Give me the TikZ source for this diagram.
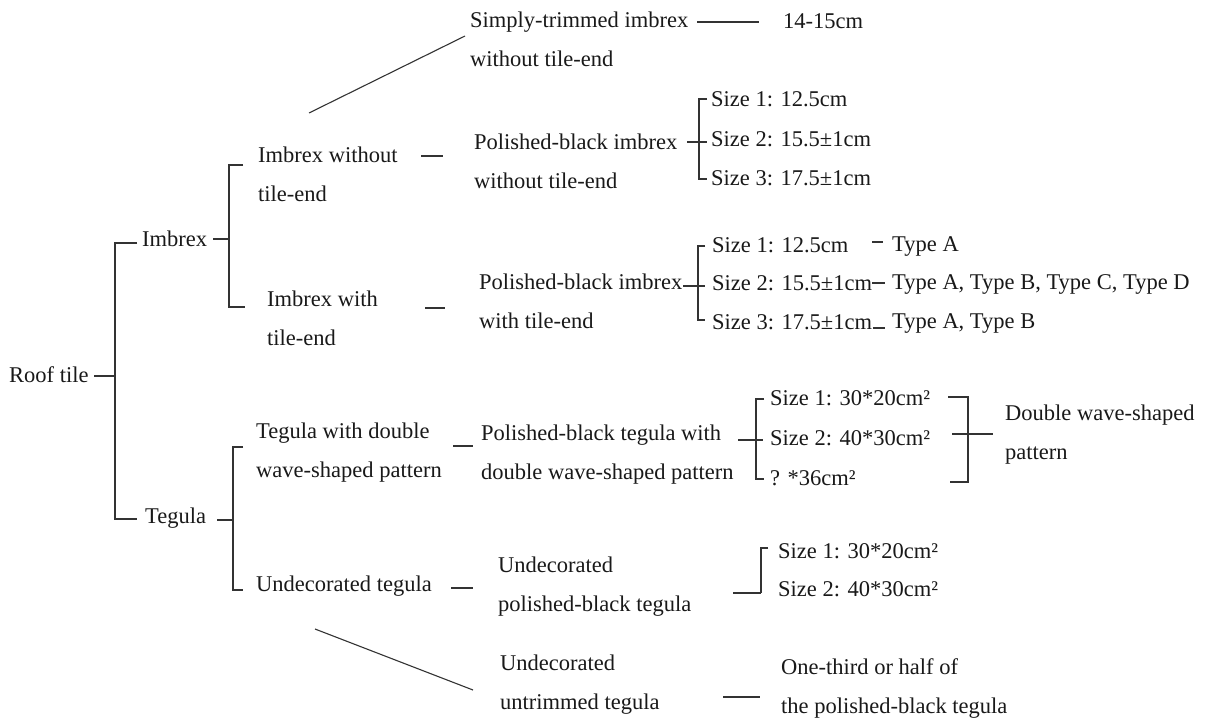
\documentclass[tikz,border=0pt]{standalone}
\usepackage{fontspec}
\setmainfont{Liberation Serif}
\begin{document}
\begin{tikzpicture}[x=1pt,y=-1pt,
  lbl/.style={anchor=base west,inner sep=0pt,align=left,text=black!90,font=\fontsize{22.5}{39}\selectfont},
  ln/.style={line width=1.1pt,draw=black!80}]
\useasboundingbox[fill=white] (0,0) rectangle (1209,720);

% ---------- text nodes (two-line nodes anchored at the baseline of their last line) ----------
\node[lbl] (roof) at (9,382) {Roof tile};
\node[lbl] (imb) at (142,246) {Imbrex};
\node[lbl] (teg) at (145,523) {Tegula};
\node[lbl] (iwo) at (258,201) {Imbrex without\\tile-end};
\node[lbl] (iw) at (267,345) {Imbrex with\\tile-end};
\node[lbl] (twd) at (256,477) {Tegula with double\\wave-shaped pattern};
\node[lbl] (ut) at (256,591) {Undecorated tegula};
\node[lbl] (st) at (470,66) {Simply-trimmed imbrex\\without tile-end};
\node[lbl] (pbiwo) at (474,188) {Polished-black imbrex\\without tile-end};
\node[lbl] (pbiw) at (479,328) {Polished-black imbrex\\with tile-end};
\node[lbl] (pbt) at (481,479) {Polished-black tegula with\\double wave-shaped pattern};
\node[lbl] (upbt) at (498,611) {Undecorated\\polished-black tegula};
\node[lbl] (uut) at (500,709) {Undecorated\\untrimmed tegula};
\node[lbl] (cm1415) at (783,28) {14-15cm};
\node[lbl] (a1) at (711,106) {Size 1: 12.5cm};
\node[lbl] (a2) at (711,146) {Size 2: 15.5±1cm};
\node[lbl] (a3) at (711,185) {Size 3: 17.5±1cm};
\node[lbl] (b1) at (712,252) {Size 1: 12.5cm};
\node[lbl] (b2) at (712,290) {Size 2: 15.5±1cm};
\node[lbl] (b3) at (712,329) {Size 3: 17.5±1cm};
\node[lbl] (t1) at (892,251) {Type A};
\node[lbl] (t2) at (892,289) {Type A, Type B, Type C, Type D};
\node[lbl] (t3) at (892,328) {Type A, Type B};
\node[lbl] (c1) at (770,405) {Size 1: 30*20cm²};
\node[lbl] (c2) at (770,445) {Size 2: 40*30cm²};
\node[lbl] (c3) at (770,485) {? *36cm²};
\node[lbl] (dws) at (1005,459) {Double wave-shaped\\pattern};
\node[lbl] (d1) at (778,558) {Size 1: 30*20cm²};
\node[lbl] (d2) at (778,596) {Size 2: 40*30cm²};
\node[lbl] (half) at (781,713) {One-third or half of\\the polished-black tegula};

% ---------- root bracket ----------
\coordinate (rS) at (94,376); \coordinate (rM) at (115,376);
\coordinate (rT) at (115,243); \coordinate (rB) at (115,519);
\coordinate (rTe) at (137,243); \coordinate (rBe) at (137,519);
\draw[ln] (rS) -- (rM);
\draw[ln] (rTe) -- (rT) -- (rB) -- (rBe);

% ---------- imbrex bracket ----------
\coordinate (iS) at (213,239); \coordinate (iM) at (229,239);
\coordinate (iT) at (229,165); \coordinate (iB) at (229,307);
\coordinate (iTe) at (243,165); \coordinate (iBe) at (245,307);
\draw[ln] (iS) -- (iM);
\draw[ln] (iTe) -- (iT) -- (iB) -- (iBe);

% ---------- tegula bracket ----------
\coordinate (gS) at (217,520); \coordinate (gM) at (233,520);
\coordinate (gT) at (233,447); \coordinate (gB) at (233,590);
\coordinate (gTe) at (243,447); \coordinate (gBe) at (243,590);
\draw[ln] (gS) -- (gM);
\draw[ln] (gTe) -- (gT) -- (gB) -- (gBe);

% ---------- short dashes between levels ----------
\coordinate (e1a) at (421,156); \coordinate (e1b) at (443,156);
\coordinate (e2a) at (425,308); \coordinate (e2b) at (445,308);
\coordinate (e3a) at (453,446); \coordinate (e3b) at (473,446);
\coordinate (e4a) at (451,588); \coordinate (e4b) at (473,588);
\draw[ln] (e1a) -- (e1b);
\draw[ln] (e2a) -- (e2b);
\draw[ln] (e3a) -- (e3b);
\draw[ln] (e4a) -- (e4b);

% ---------- diagonals ----------
\coordinate (dgA) at (309,113); \coordinate (dgB) at (465,36);
\coordinate (dgC) at (315,629); \coordinate (dgD) at (473,690);
\draw[ln] (dgA) -- (dgB);
\draw[ln] (dgC) -- (dgD);

% ---------- simply-trimmed dash ----------
\coordinate (s1) at (697,22); \coordinate (s2) at (759,22);
\draw[ln] (s1) -- (s2);

% ---------- size bracket, imbrex without tile-end ----------
\coordinate (aS) at (687,142); \coordinate (aM) at (707,142);
\coordinate (aT) at (699,99); \coordinate (aB) at (699,179);
\coordinate (aTe) at (707,99); \coordinate (aBe) at (707,179);
\draw[ln] (aS) -- (aM);
\draw[ln] (aTe) -- (aT) -- (aB) -- (aBe);

% ---------- size bracket, imbrex with tile-end ----------
\coordinate (bS) at (683,286); \coordinate (bM) at (705,286);
\coordinate (bT) at (698,246); \coordinate (bB) at (698,320);
\coordinate (bTe) at (705,246); \coordinate (bBe) at (705,320);
\draw[ln] (bS) -- (bM);
\draw[ln] (bTe) -- (bT) -- (bB) -- (bBe);

% ---------- type dashes ----------
\coordinate (y1a) at (872,242); \coordinate (y1b) at (883,242);
\coordinate (y2a) at (872,283); \coordinate (y2b) at (885,283);
\coordinate (y3a) at (873,328); \coordinate (y3b) at (885,328);
\draw[ln] (y1a) -- (y1b);
\draw[ln] (y2a) -- (y2b);
\draw[ln] (y3a) -- (y3b);

% ---------- size bracket, tegula with pattern ----------
\coordinate (cS) at (738,440); \coordinate (cM) at (763,440);
\coordinate (cT) at (756,399); \coordinate (cB) at (756,479);
\coordinate (cTe) at (764,399); \coordinate (cBe) at (764,479);
\draw[ln] (cS) -- (cM);
\draw[ln] (cTe) -- (cT) -- (cB) -- (cBe);

% ---------- right bracket to pattern ----------
\coordinate (pT1) at (948,397); \coordinate (pT) at (968,397);
\coordinate (pB1) at (950,482); \coordinate (pB) at (968,482);
\coordinate (pM1) at (952,434); \coordinate (pM2) at (993,434);
\draw[ln] (pT1) -- (pT) -- (pB) -- (pB1);
\draw[ln] (pM1) -- (pM2);

% ---------- size bracket, undecorated tegula ----------
\coordinate (uS) at (733,593); \coordinate (uB) at (761,593);
\coordinate (uT) at (761,548); \coordinate (uTe) at (768,548);
\draw[ln] (uS) -- (uB);
\draw[ln] (uTe) -- (uT) -- (uB);

% ---------- untrimmed dash ----------
\coordinate (h1) at (723,697); \coordinate (h2) at (760,697);
\draw[ln] (h1) -- (h2);
\end{tikzpicture}
\end{document}
